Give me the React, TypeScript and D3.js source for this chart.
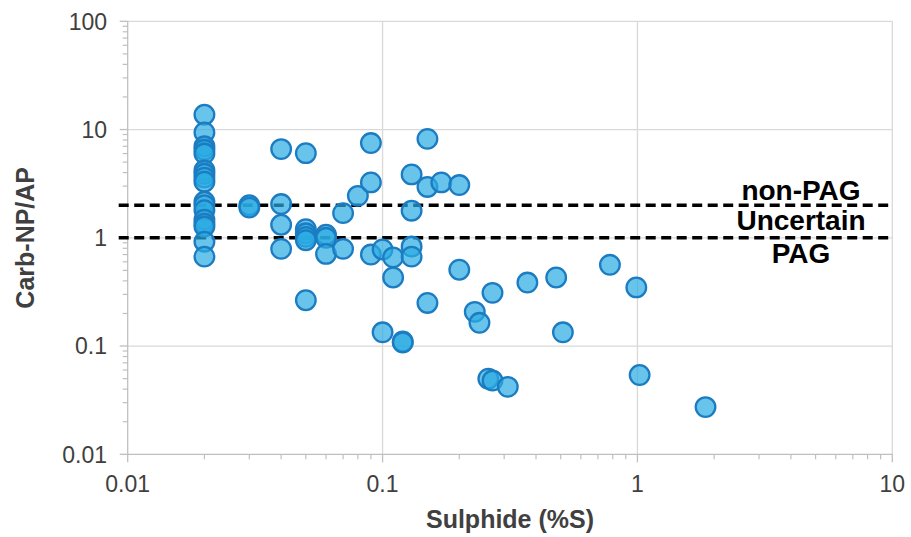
import React from "react";
import * as d3 from "d3";

const sulphide = [
  0.02, 0.02, 0.02, 0.02, 0.02, 0.02, 0.02, 0.02, 0.02, 0.02, 0.02, 0.02, 0.02, 0.02, 0.02, 0.02, 0.02,
  0.03, 0.03,
  0.04, 0.04, 0.04, 0.04,
  0.05, 0.05, 0.05, 0.05, 0.05, 0.05,
  0.06, 0.06, 0.06,
  0.07, 0.07,
  0.08,
  0.09, 0.09, 0.09,
  0.1, 0.1,
  0.11, 0.11,
  0.12, 0.12,
  0.13, 0.13, 0.13, 0.13,
  0.15, 0.15, 0.15,
  0.17,
  0.2, 0.2,
  0.23, 0.24, 0.26, 0.27, 0.27, 0.31, 0.37, 0.48, 0.51, 0.78, 0.99, 1.02, 1.85,
];
const carbNpAp = [
  13.7, 9.4, 7.0, 6.5, 6.0, 4.2, 3.9, 3.6, 3.3, 2.15, 2.0, 1.8, 1.47, 1.35, 1.27, 0.92, 0.67,
  2.0, 1.9,
  6.6, 2.05, 1.32, 0.79,
  6.05, 1.2, 1.1, 1.02, 0.95, 0.265,
  1.07, 1.0, 0.71,
  1.69, 0.79,
  2.44,
  7.5, 3.25, 0.7,
  0.78, 0.134,
  0.66, 0.43,
  0.11, 0.108,
  3.85, 1.78, 0.83, 0.67,
  8.2, 2.95, 0.25,
  3.25,
  3.07, 0.507,
  0.207, 0.164, 0.05, 0.31, 0.048, 0.042, 0.386, 0.43, 0.134, 0.563, 0.348, 0.054, 0.0273,
];

const xTicks = [0.01, 0.1, 1, 10];
const xTickLabels = ["0.01", "0.1", "1", "10"];
const yTicks = [0.01, 0.1, 1, 10, 100];
const yTickLabels = ["0.01", "0.1", "1", "10", "100"];
const thresholds = [2, 1];
const zoneLabels = ["non-PAG", "Uncertain", "PAG"];
const zoneLabelValues = [2.75, 1.45, 0.72];

const W = 911;
const H = 537;
const FONT = "'Liberation Sans', Arial, sans-serif";

export default function App() {
  const x = d3.scaleLog().domain([0.01, 10]).range([127.7, 892.3]);
  const y = d3.scaleLog().domain([0.01, 100]).range([454.3, 21.3]);

  const xMinor: number[] = [];
  xTicks.slice(0, -1).forEach((d) => {
    for (let k = 2; k <= 9; k++) xMinor.push(k * d);
  });
  const yMinor: number[] = [];
  yTicks.slice(0, -1).forEach((d) => {
    for (let k = 2; k <= 9; k++) yMinor.push(k * d);
  });

  const x0 = x.range()[0];
  const x1 = x.range()[1];
  const y0 = y.range()[0];
  const y1 = y.range()[1];
  const axisColor = "#bfbfbf";
  const gridColor = "#d9d9d9";
  const textColor = "#404040";

  const line = d3
    .line<[number, number]>()
    .x((d) => d[0])
    .y((d) => d[1]);

  return (
    <div style={{ position: "absolute", left: 0, top: 0 }}>
      <svg width={W} height={H} style={{ display: "block", background: "#fff" }}>
        {/* gridlines */}
        {yTicks.slice(1).map((t) => (
          <line key={"gy" + t} x1={x0} x2={x1} y1={y(t)} y2={y(t)} stroke={gridColor} strokeWidth={1.3} />
        ))}
        {xTicks.slice(1).map((t) => (
          <line key={"gx" + t} x1={x(t)} x2={x(t)} y1={y0} y2={y1} stroke={gridColor} strokeWidth={1.3} />
        ))}
        {/* axes */}
        <line x1={x0} x2={x0} y1={y0} y2={y1} stroke={axisColor} strokeWidth={1.3} />
        <line x1={x0} x2={x1} y1={y0} y2={y0} stroke={axisColor} strokeWidth={1.3} />
        {yTicks.map((t) => (
          <line key={"ty" + t} x1={x0 - 8} x2={x0} y1={y(t)} y2={y(t)} stroke={axisColor} strokeWidth={1.3} />
        ))}
        {yMinor.map((t) => (
          <line key={"my" + t} x1={x0 - 5} x2={x0} y1={y(t)} y2={y(t)} stroke={axisColor} strokeWidth={1.2} />
        ))}
        {xTicks.map((t) => (
          <line key={"tx" + t} x1={x(t)} x2={x(t)} y1={y0} y2={y0 + 8} stroke={axisColor} strokeWidth={1.3} />
        ))}
        {xMinor.map((t) => (
          <line key={"mx" + t} x1={x(t)} x2={x(t)} y1={y0} y2={y0 + 5} stroke={axisColor} strokeWidth={1.2} />
        ))}
        {/* tick labels */}
        {yTicks.map((t, i) => (
          <text key={"ly" + t} x={107} y={y(t)} dy="0.36em" textAnchor="end" fontFamily={FONT} fontSize={23} fill={textColor}>
            {yTickLabels[i]}
          </text>
        ))}
        {xTicks.map((t, i) => (
          <text key={"lx" + t} x={x(t)} y={492} textAnchor="middle" fontFamily={FONT} fontSize={23} fill={textColor}>
            {xTickLabels[i]}
          </text>
        ))}
        {/* axis titles */}
        <text x={(x0 + x1) / 2} y={528} textAnchor="middle" fontFamily={FONT} fontSize={25} fontWeight="bold" fill={textColor}>
          Sulphide (%S)
        </text>
        <text
          transform={`translate(34,${(y0 + y1) / 2}) rotate(-90)`}
          textAnchor="middle"
          fontFamily={FONT}
          fontSize={25}
          fontWeight="bold"
          fill={textColor}
        >
          Carb-NP/AP
        </text>
        {/* threshold lines */}
        {thresholds.map((t) => (
          <path
            key={"th" + t}
            d={line([
              [x0 - 9, y(t)],
              [x1 - 1, y(t)],
            ]) as string}
            stroke="#000"
            strokeWidth={3.5}
            strokeDasharray="10,5.5"
            fill="none"
          />
        ))}
        {/* points */}
        {sulphide.map((s, i) => (
          <circle
            key={"p" + i}
            cx={x(s)}
            cy={y(carbNpAp[i])}
            r={9.8}
            fill="rgb(41,171,226)"
            fillOpacity={0.7}
            stroke="#1c7cc2"
            strokeWidth={2.3}
          />
        ))}
        {/* zone labels */}
        {zoneLabels.map((l, i) => (
          <text key={l} x={801} y={y(zoneLabelValues[i])} dy="0.36em" textAnchor="middle" fontFamily={FONT} fontSize={28} fontWeight="bold" fill="#000">
            {l}
          </text>
        ))}
      </svg>
    </div>
  );
}
